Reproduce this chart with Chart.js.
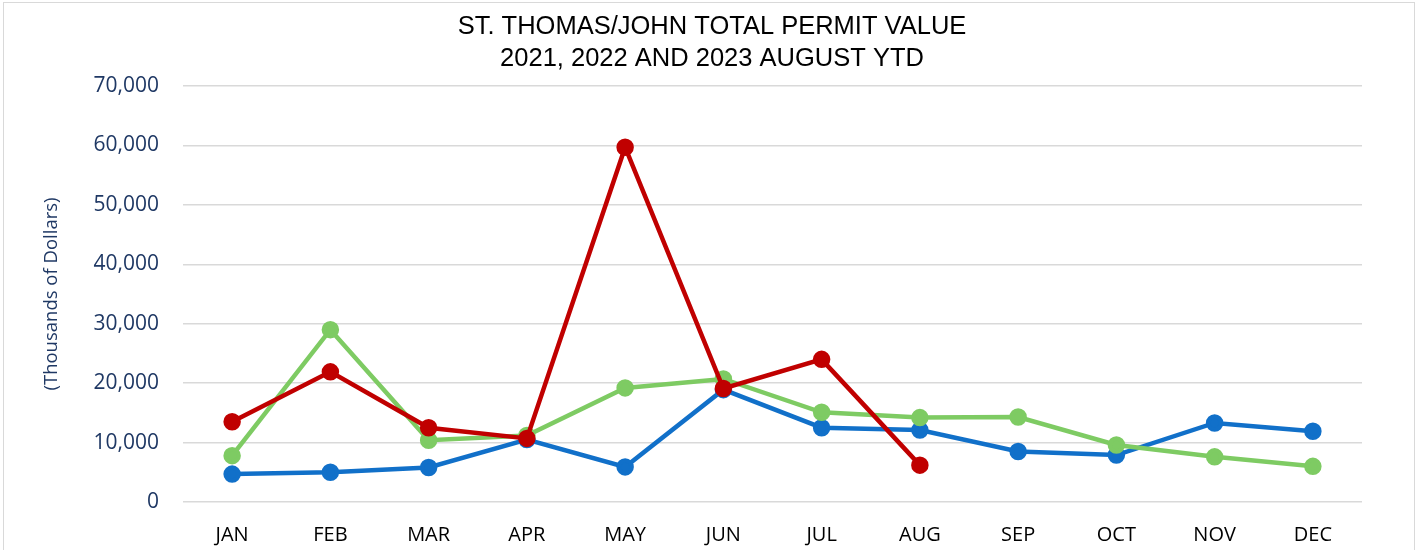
<!DOCTYPE html>
<html>
<head>
<meta charset="utf-8">
<script src="https://cdn.jsdelivr.net/npm/chart.js@4/dist/chart.umd.min.js"></script>
<style>
  html, body { margin: 0; padding: 0; background: #fff; }
  #wrap { position: relative; width: 1424px; height: 550px; }
  #frame { position: absolute; left: 3px; top: 2px; width: 1412px; height: 560px; border: 1px solid #d9d9d9; box-sizing: border-box; pointer-events: none; }
  canvas { display: block; }
</style>
</head>
<body>
<div id="wrap">
  <canvas id="c" width="1424" height="550"></canvas>
  <div id="frame"></div>
</div>
<script>
const categories = ["JAN","FEB","MAR","APR","MAY","JUN","JUL","AUG","SEP","OCT","NOV","DEC"];
const series2021 = [4700, 5000, 5800, 10500, 5900, 18900, 12500, 12100, 8500, 7900, 13300, 11900];
const series2022 = [7800, 29000, 10400, 11200, 19200, 20700, 15100, 14200, 14300, 9600, 7600, 6000];
const series2023 = [13500, 21900, 12500, 10700, 59700, 19100, 24000, 6200];
const titleLines = ["ST. THOMAS/JOHN TOTAL PERMIT VALUE", "2021, 2022 AND 2023 AUGUST YTD"];
const yAxisTitle = "(Thousands of Dollars)";

const ds = (label, data, color, order) => ({
  label, data, order,
  borderColor: color, backgroundColor: color,
  pointBackgroundColor: color, pointBorderColor: color,
  borderWidth: 4.5, pointRadius: 6.5, pointHoverRadius: 6.5,
  tension: 0, fill: false
});

new Chart(document.getElementById('c'), {
  type: 'line',
  data: {
    labels: categories,
    datasets: [
      ds('2021', series2021, '#1170C9', 3),
      ds('2022', series2022, '#7ECB63', 2),
      ds('2023', series2023, '#C00000', 1)
    ]
  },
  options: {
    responsive: false,
    animation: false,
    layout: { padding: { left: 4, right: 4, top: 11, bottom: 0 } },
    plugins: {
      legend: { display: false },
      tooltip: { enabled: false },
      title: {
        display: true,
        text: titleLines,
        color: '#000',
        font: { family: '"Liberation Sans", Arial, sans-serif', size: 25.5, weight: 'normal', lineHeight: 1.255 },
        padding: { top: 0, bottom: 11 }
      }
    },
    scales: {
      x: {
        offset: true,
        afterFit: (s) => { s.height = 48; },
        grid: { display: false, drawTicks: false },
        border: { display: false },
        ticks: { color: '#000', padding: 21, font: { family: '"Open Sans", sans-serif', size: 20 } }
      },
      y: {
        min: 0, max: 70000,
        afterFit: (s) => { s.width = 179; },
        grid: { color: '#d9d9d9', lineWidth: 1.5, drawTicks: false },
        border: { display: false },
        ticks: {
          stepSize: 10000, color: '#1F3864', padding: 24,
          font: { family: '"Open Sans", sans-serif', size: 21 },
          callback: (v) => v.toLocaleString('en-US')
        },
        title: {
          display: true, text: yAxisTitle, color: '#1F3864',
          font: { family: '"Open Sans", sans-serif', size: 18.5 },
          padding: { top: 37, bottom: 0 }
        }
      },
      yRight: {
        position: 'right',
        min: 0, max: 70000,
        afterFit: (s) => { s.width = 58; },
        grid: { display: false, drawTicks: false },
        border: { display: false },
        ticks: { display: false }
      }
    }
  }
});
</script>
</body>
</html>
